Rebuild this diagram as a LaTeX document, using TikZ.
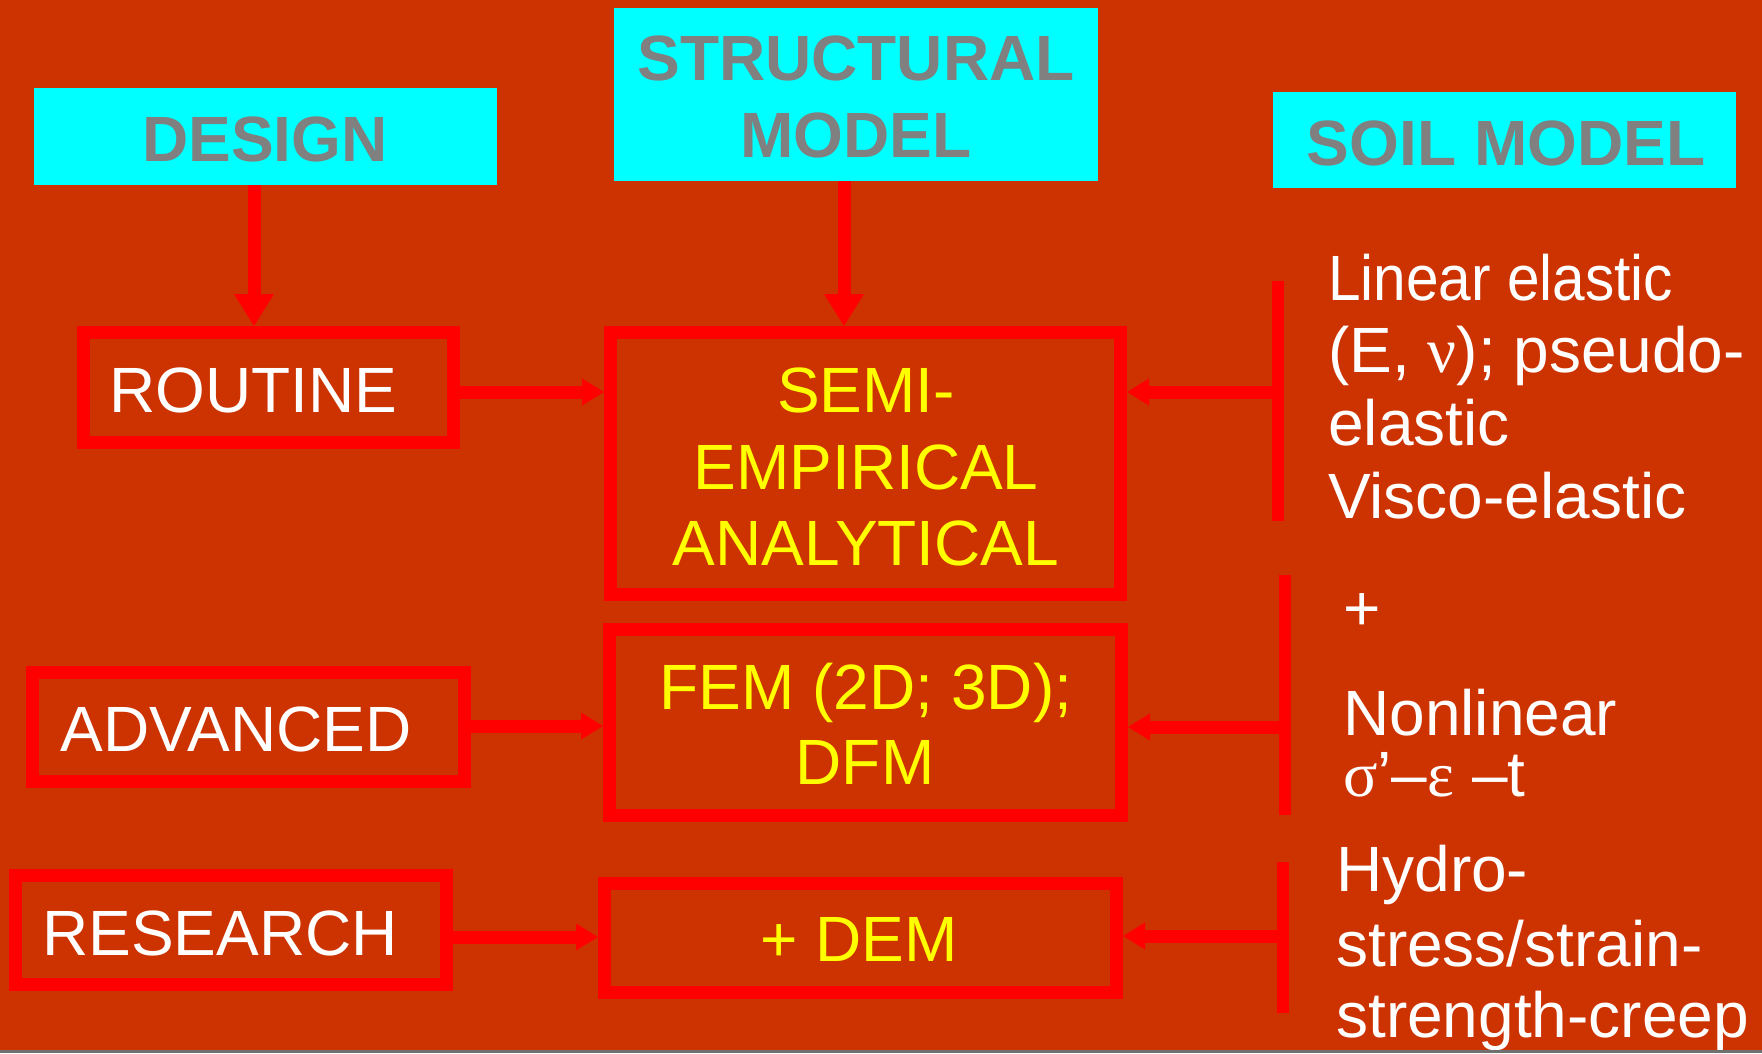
\documentclass[tikz,border=0pt]{standalone}
\usepackage{fontspec}
\setmainfont{Liberation Sans}
\newfontfamily\grk{Liberation Serif}
\usetikzlibrary{arrows.meta}
\definecolor{bgc}{HTML}{CC3300}
\definecolor{redc}{HTML}{FF0000}
\definecolor{cyanc}{HTML}{00FFFF}
\definecolor{grayc}{HTML}{808080}
\definecolor{yellowc}{HTML}{FFFF00}
\definecolor{stripc}{HTML}{707070}
\begin{document}
\begin{tikzpicture}[x=1pt,y=-1pt,
  hdrbox/.style={fill=cyanc,draw=none,inner sep=0pt,outer sep=0pt},
  redbox/.style={draw=redc,line width=13pt,inner sep=0pt,outer sep=6.5pt},
  redbar/.style={fill=redc,draw=none,inner sep=0pt,outer sep=0pt,minimum width=12pt},
  conn/.style={draw=redc,line width=13pt},
  varrow/.style={conn,-{Triangle[length=32pt,width=40pt,line width=0pt]}},
  harrow/.style={conn,-{Triangle[length=22pt,width=27pt,line width=0pt]}},
  hdr/.style={anchor=base,text=grayc,font=\fontsize{64}{76}\selectfont\bfseries,inner sep=0pt},
  wt/.style={anchor=base,text=white,font=\fontsize{64}{76}\selectfont,inner sep=0pt},
  yt/.style={anchor=base,text=yellowc,font=\fontsize{64}{76}\selectfont,inner sep=0pt},
  rt/.style={anchor=base west,text=white,font=\fontsize{64}{76}\selectfont,inner sep=0pt}]
\useasboundingbox (0,0) rectangle (1762,1053);
\fill[bgc] (0,0) rectangle (1762,1053);

% header boxes
\node[hdrbox,minimum width=463pt,minimum height=97pt] (design) at (265.5,136.5) {};
\node[hdrbox,minimum width=484pt,minimum height=173pt] (struct) at (856,94.5) {};
\node[hdrbox,minimum width=463pt,minimum height=96pt] (soil) at (1504.5,140) {};
\node[hdr] (designT) at (265,161) {DESIGN};
\node[hdr] (structT1) at (856,80) {STRUCTURAL};
\node[hdr] (structT2) at (856,157) {MODEL};
\node[hdr] (soilT) at (1506,165) {SOIL MODEL};

% red boxes
\node[redbox,minimum width=370pt,minimum height=110pt] (routine) at (268.5,387.5) {};
\node[redbox,minimum width=510pt,minimum height=262pt] (semi) at (865.5,463.5) {};
\node[redbox,minimum width=432pt,minimum height=109pt] (advanced) at (248.5,727) {};
\node[redbox,minimum width=512pt,minimum height=186pt] (fem) at (865.5,722.5) {};
\node[redbox,minimum width=431pt,minimum height=109pt] (research) at (231,930) {};
\node[redbox,minimum width=512pt,minimum height=109pt] (dem) at (860.5,938) {};

\node[wt] (routineT) at (253,412) {ROUTINE};
\node[wt] (advancedT) at (236,751) {ADVANCED};
\node[wt] (researchT) at (220,955) {RESEARCH};
\node[yt] (semiT1) at (866,412) {SEMI-};
\node[yt] (semiT2) at (866,489) {EMPIRICAL};
\node[yt] (semiT3) at (866,565) {ANALYTICAL};
\node[yt] (femT1) at (866,709) {FEM (2D; 3D);};
\node[yt] (femT2) at (865,784) {DFM};
\node[yt] (demT) at (859,961) {+ DEM};

% right bars
\node[redbar,minimum height=240pt] (bar1) at (1278,401) {};
\node[redbar,minimum height=240pt] (bar2) at (1284.5,695) {};
\node[redbar,minimum height=151pt] (bar3) at (1283,937.5) {};

% right texts
\node[rt] (s1) at (1328,300) {\scalebox{0.915}[1]{Linear elastic}};
\node[rt] (s2) at (1328,372) {(E, {\grk ν}); pseudo-};
\node[rt] (s3) at (1328,445) {elastic};
\node[rt] (s4) at (1328,518) {Visco-elastic};
\node[rt] (s5) at (1343,630) {+};
\node[rt] (s6) at (1343,735) {Nonlinear};
\node[rt] (s7) at (1343,796) {{\grk σ}’–{\grk ε} –t};
\node[rt] (s8) at (1336,891) {Hydro-};
\node[rt] (s9) at (1336,966) {stress/strain-};
\node[rt] (s10) at (1336,1037) {strength-creep};

% connectors
\coordinate (dx) at (254,0);
\coordinate (sx) at (844,0);
\coordinate (ry) at (0,392);
\coordinate (ay) at (0,726);
\coordinate (rsy) at (0,937);
\coordinate (y1) at (0,392);
\coordinate (y2) at (0,727);
\coordinate (y3) at (0,936);
\draw[varrow] (design.south -| dx) -- (routine.north -| dx);
\draw[varrow] (struct.south -| sx) -- (semi.north -| sx);
\draw[harrow] (routine.east |- ry) -- (semi.west |- ry);
\draw[harrow] (advanced.east |- ay) -- (fem.west |- ay);
\draw[harrow] (research.east |- rsy) -- (dem.west |- rsy);
\draw[harrow] (bar1.west |- y1) -- (semi.east |- y1);
\draw[harrow] (bar2.west |- y2) -- (fem.east |- y2);
\draw[harrow] (bar3.west |- y3) -- (dem.east |- y3);

\fill[stripc] (0,1050) rectangle (1762,1053);
\end{tikzpicture}
\end{document}
